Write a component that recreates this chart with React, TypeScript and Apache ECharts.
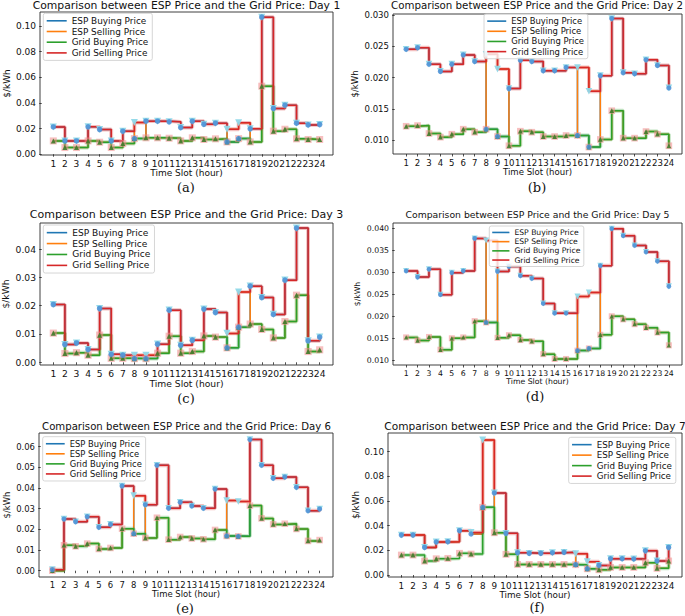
import React, { useEffect, useRef } from "react";
import * as echarts from "echarts";

// ---------- data ----------
const slots = [1, 2, 3, 4, 5, 6, 7, 8, 9, 10, 11, 12, 13, 14, 15, 16, 17, 18, 19, 20, 21, 22, 23, 24];
const seriesNames = ["ESP Buying Price", "ESP Selling Price", "Grid Buying Price", "Grid Selling Price"];
const dayTitles = [
  "Comparison between ESP Price and the Grid Price: Day 1",
  "Comparison between ESP Price and the Grid Price: Day 2",
  "Comparison between ESP Price and the Grid Price: Day 3",
  "Comparison between ESP Price and the Grid Price: Day 5",
  "Comparison between ESP Price and the Grid Price: Day 6",
  "Comparison between ESP Price and the Grid Price: Day 7",
];
const captions = ["(a)", "(b)", "(c)", "(d)", "(e)", "(f)"];
const xAxisName = "Time Slot (hour)";
const yAxisName = "$/kWh";

// Day 1
const day1GridSell = [0.0213, 0.0104, 0.0104, 0.0214, 0.0193, 0.0104, 0.0180, 0.0247, 0.0258, 0.0258, 0.0253, 0.0208, 0.0258, 0.0234, 0.0242, 0.0195, 0.0245, 0.0198, 0.1070, 0.0357, 0.0383, 0.0242, 0.0229, 0.0232];
const day1GridBuy = [0.0104, 0.0052, 0.0052, 0.0104, 0.0094, 0.0052, 0.0083, 0.0122, 0.0128, 0.0128, 0.0125, 0.0104, 0.0128, 0.0115, 0.0120, 0.0096, 0.0122, 0.0096, 0.0531, 0.0180, 0.0195, 0.0120, 0.0115, 0.0115];
const day1EspBuy = [0.0213, 0.0104, 0.0104, 0.0214, 0.0193, 0.0104, 0.0180, 0.0122, 0.0258, 0.0258, 0.0253, 0.0208, 0.0258, 0.0234, 0.0242, 0.0096, 0.0122, 0.0198, 0.1070, 0.0357, 0.0383, 0.0242, 0.0229, 0.0232];
const day1EspSell = [0.0104, 0.0052, 0.0052, 0.0104, 0.0094, 0.0052, 0.0083, 0.0247, 0.0128, 0.0128, 0.0125, 0.0104, 0.0128, 0.0115, 0.0120, 0.0195, 0.0245, 0.0096, 0.0531, 0.0180, 0.0195, 0.0120, 0.0115, 0.0115];
const day1Ticks = [0, 0.02, 0.04, 0.06, 0.08, 0.1];

// Day 2
const day2GridSell = [0.02455, 0.02481, 0.02217, 0.02101, 0.02217, 0.02365, 0.02259, 0.02376, 0.02138, 0.01825, 0.0228, 0.02259, 0.02111, 0.02111, 0.02164, 0.02164, 0.01783, 0.02032, 0.02947, 0.0208, 0.02063, 0.02286, 0.02196, 0.01836];
const day2GridBuy = [0.01222, 0.01233, 0.01106, 0.01048, 0.01095, 0.01175, 0.01127, 0.01175, 0.01058, 0.0091, 0.01143, 0.01127, 0.01058, 0.01058, 0.01074, 0.01074, 0.00889, 0.01011, 0.01471, 0.01032, 0.01032, 0.01138, 0.01095, 0.0091];
const day2EspBuy = [0.02455, 0.02481, 0.02217, 0.02101, 0.02217, 0.02365, 0.02259, 0.01175, 0.01058, 0.01825, 0.0228, 0.02259, 0.02111, 0.02111, 0.02164, 0.01074, 0.00889, 0.02032, 0.02947, 0.0208, 0.02063, 0.02286, 0.02196, 0.01836];
const day2EspSell = [0.01222, 0.01233, 0.01106, 0.01048, 0.01095, 0.01175, 0.01127, 0.02376, 0.02138, 0.0091, 0.01143, 0.01127, 0.01058, 0.01058, 0.01074, 0.02164, 0.01783, 0.01011, 0.01471, 0.01032, 0.01032, 0.01138, 0.01095, 0.0091];
const day2Ticks = [0.01, 0.015, 0.02, 0.025, 0.03];

// Day 3
const day3GridSell = [0.0204, 0.0063, 0.0068, 0.0045, 0.019, 0.0028, 0.0025, 0.0025, 0.0025, 0.0064, 0.0184, 0.006, 0.0078, 0.0188, 0.0176, 0.0102, 0.0248, 0.0269, 0.0229, 0.0169, 0.029, 0.0474, 0.0076, 0.0089];
const day3GridBuy = [0.0103, 0.0031, 0.0034, 0.0025, 0.0096, 0.0014, 0.0014, 0.0013, 0.0013, 0.0032, 0.0092, 0.0032, 0.0038, 0.0093, 0.0089, 0.0051, 0.0124, 0.0135, 0.0116, 0.0086, 0.0144, 0.0237, 0.0038, 0.0044];
const day3EspBuy = [0.0204, 0.0063, 0.0068, 0.0045, 0.019, 0.0028, 0.0025, 0.0013, 0.0013, 0.0064, 0.0184, 0.006, 0.0078, 0.0188, 0.0176, 0.0051, 0.0124, 0.0269, 0.0229, 0.0169, 0.029, 0.0474, 0.0076, 0.0089];
const day3EspSell = [0.0103, 0.0031, 0.0034, 0.0025, 0.0096, 0.0014, 0.0014, 0.0025, 0.0025, 0.0032, 0.0092, 0.0032, 0.0038, 0.0093, 0.0089, 0.0102, 0.0248, 0.0135, 0.0116, 0.0086, 0.0144, 0.0237, 0.0038, 0.0044];
const day3Ticks = [0, 0.01, 0.02, 0.03, 0.04];

// Day 5
const day5GridSell = [0.0303, 0.0289, 0.0307, 0.0249, 0.0299, 0.0303, 0.0377, 0.0372, 0.0302, 0.0313, 0.0292, 0.0286, 0.0229, 0.0207, 0.0207, 0.0245, 0.0254, 0.0315, 0.0399, 0.0383, 0.0361, 0.0346, 0.0325, 0.0268];
const day5GridBuy = [0.0152, 0.0145, 0.0153, 0.0124, 0.015, 0.0152, 0.0189, 0.0186, 0.0151, 0.0157, 0.0146, 0.0143, 0.0114, 0.0103, 0.0103, 0.0122, 0.0127, 0.0158, 0.02, 0.0193, 0.0182, 0.0174, 0.0163, 0.0134];
const day5EspBuy = [0.0303, 0.0289, 0.0307, 0.0249, 0.0299, 0.0303, 0.0377, 0.0186, 0.0302, 0.0313, 0.0292, 0.0286, 0.0229, 0.0207, 0.0207, 0.0122, 0.0127, 0.0315, 0.0399, 0.0383, 0.0361, 0.0346, 0.0325, 0.0268];
const day5EspSell = [0.0152, 0.0145, 0.0153, 0.0124, 0.015, 0.0152, 0.0189, 0.0372, 0.0151, 0.0157, 0.0146, 0.0143, 0.0114, 0.0103, 0.0103, 0.0245, 0.0254, 0.0158, 0.02, 0.0193, 0.0182, 0.0174, 0.0163, 0.0134];
const day5Ticks = [0.01, 0.015, 0.02, 0.025, 0.03, 0.035, 0.04];

// Day 6
const day6GridSell = [0.0005, 0.025, 0.0237, 0.0261, 0.021, 0.0224, 0.041, 0.0363, 0.0319, 0.051, 0.0302, 0.0331, 0.0313, 0.0302, 0.0395, 0.0339, 0.0335, 0.0634, 0.051, 0.0447, 0.0453, 0.0403, 0.029, 0.0298];
const day6GridBuy = [0.0, 0.0123, 0.0118, 0.0131, 0.0105, 0.011, 0.0203, 0.0179, 0.0158, 0.0256, 0.015, 0.0163, 0.0156, 0.0152, 0.0197, 0.0168, 0.0166, 0.0315, 0.0253, 0.0224, 0.0227, 0.0202, 0.0144, 0.0148];
const day6EspBuy = [0.0005, 0.025, 0.0237, 0.0261, 0.021, 0.0224, 0.041, 0.0179, 0.0319, 0.051, 0.0302, 0.0331, 0.0313, 0.0302, 0.0395, 0.0168, 0.0166, 0.0634, 0.051, 0.0447, 0.0453, 0.0403, 0.029, 0.0298];
const day6EspSell = [0.0, 0.0123, 0.0118, 0.0131, 0.0105, 0.011, 0.0203, 0.0363, 0.0158, 0.0256, 0.015, 0.0163, 0.0156, 0.0152, 0.0197, 0.0339, 0.0335, 0.0315, 0.0253, 0.0224, 0.0227, 0.0202, 0.0144, 0.0148];
const day6Ticks = [0, 0.01, 0.02, 0.03, 0.04, 0.05, 0.06];

// Day 7
const day7GridSell = [0.0324, 0.0324, 0.0224, 0.0268, 0.027, 0.036, 0.0345, 0.1095, 0.0665, 0.0338, 0.0181, 0.0176, 0.0176, 0.0181, 0.0184, 0.0173, 0.0108, 0.0078, 0.0132, 0.0132, 0.013, 0.0197, 0.0114, 0.0224];
const day7GridBuy = [0.0162, 0.0162, 0.0113, 0.0132, 0.0135, 0.0176, 0.017, 0.0549, 0.0343, 0.0168, 0.0086, 0.0086, 0.0086, 0.0086, 0.0086, 0.0084, 0.0051, 0.0043, 0.0062, 0.0062, 0.0062, 0.01, 0.0054, 0.0114];
const day7EspBuy = [0.0324, 0.0324, 0.0224, 0.0268, 0.027, 0.036, 0.0333, 0.0549, 0.0665, 0.0338, 0.0181, 0.0176, 0.0176, 0.0181, 0.0184, 0.0084, 0.0051, 0.0078, 0.0132, 0.0132, 0.013, 0.0197, 0.0114, 0.0224];
const day7EspSell = [0.0324, 0.0324, 0.0224, 0.0268, 0.027, 0.036, 0.0333, 0.1095, 0.0343, 0.0168, 0.0086, 0.0086, 0.0086, 0.0086, 0.0086, 0.0173, 0.0108, 0.0043, 0.0062, 0.0062, 0.0062, 0.01, 0.0054, 0.0114];
const day7Ticks = [0, 0.02, 0.04, 0.06, 0.08, 0.1];

// ---------- layout / style ----------
const FONT = "DejaVu Sans";
const lineColors = ["#1f77b4", "#ff7f0e", "#2ca02c", "#d62728"];

const panels = [
  { espBuy: day1EspBuy, espSell: day1EspSell, gridBuy: day1GridBuy, gridSell: day1GridSell, ticks: day1Ticks, dec: 2, s: 1.0,
    grid: { left: 40, top: 12, width: 293, height: 143 }, yMin: -0.0006, yMax: 0.111,
    legend: { left: 43.3, top: 13.3 }, yGap: 29, xGap: 12, title: [186.5, 5], cap: [186, 187] },
  { espBuy: day2EspBuy, espSell: day2EspSell, gridBuy: day2GridBuy, gridSell: day2GridSell, ticks: day2Ticks, dec: 3, s: 0.95,
    grid: { left: 393, top: 14, width: 289, height: 140 }, yMin: 0.00778, yMax: 0.0302,
    legend: { left: 484, top: 14 }, yGap: 34, xGap: 12.5, title: [537, 5], cap: [537, 187.5] },
  { espBuy: day3EspBuy, espSell: day3EspSell, gridBuy: day3GridBuy, gridSell: day3GridSell, ticks: day3Ticks, dec: 2, s: 1.02,
    grid: { left: 40, top: 223, width: 293, height: 142 }, yMin: -0.00096, yMax: 0.0492,
    legend: { left: 43.3, top: 225 }, yGap: 30, xGap: 12.5, title: [186.5, 214.5], cap: [186, 398.5] },
  { espBuy: day5EspBuy, espSell: day5EspSell, gridBuy: day5GridBuy, gridSell: day5GridSell, ticks: day5Ticks, dec: 3, s: 0.86,
    grid: { left: 393, top: 223, width: 289, height: 142 }, yMin: 0.00893, yMax: 0.0412,
    legend: { left: 489.3, top: 226 }, yGap: 32, xGap: 12.5, title: [537.5, 214.5], cap: [535, 396.5] },
  { espBuy: day6EspBuy, espSell: day6EspSell, gridBuy: day6GridBuy, gridSell: day6GridSell, ticks: day6Ticks, dec: 2, s: 0.94,
    grid: { left: 39, top: 433, width: 294, height: 144 }, yMin: -0.00305, yMax: 0.0666,
    legend: { left: 42.7, top: 436.7 }, yGap: 28, xGap: 13, title: [186.5, 426.2], cap: [185, 608] },
  { espBuy: day7EspBuy, espSell: day7EspSell, gridBuy: day7GridBuy, gridSell: day7GridSell, ticks: day7Ticks, dec: 2, s: 0.98,
    grid: { left: 388, top: 433, width: 294, height: 144 }, yMin: -0.0016, yMax: 0.1152,
    legend: { left: 568.7, top: 437.3 }, yGap: 28, xGap: 13, title: [535, 426.2], cap: [537, 607] },
];

const pts = (arr: number[]) => slots.map((x, k) => [x, arr[k]]);

function buildOption() {
  const series: any[] = [];
  panels.forEach((p, i) => {
    const ax = { xAxisIndex: i, yAxisIndex: i };
    const line = (name: string, color: string, arr: number[], width: number, opacity = 1) => ({
      type: "line", name, ...ax, data: pts(arr), step: "end", showSymbol: false, symbol: "none",
      color, lineStyle: { color, width, opacity }, z: 2, silent: true, emphasis: { disabled: true },
    });
    series.push(line(seriesNames[0], lineColors[0], p.espBuy, 1.5));
    series.push(line(seriesNames[1], lineColors[1], p.espSell, 1.5));
    series.push(line("gb-halo", lineColors[2], p.gridBuy, 3.8, 0.3));
    series.push(line(seriesNames[2], lineColors[2], p.gridBuy, 1.5));
    series.push(line("gs-halo", lineColors[3], p.gridSell, 3.8, 0.3));
    series.push(line(seriesNames[3], lineColors[3], p.gridSell, 1.5));
    const scatter = (name: string, arr: number[], symbol: string, size: number, color: string, opacity: number, rotate = 0) => ({
      type: "scatter", name, ...ax, data: pts(arr), symbol, symbolSize: size, symbolRotate: rotate,
      itemStyle: { color, opacity }, z: 3, silent: true, emphasis: { disabled: true },
    });
    series.push(scatter("m-gs", p.gridSell, "triangle", 7 * p.s, "#8fd8e8", 0.95, 180));
    series.push(scatter("m-gb-sq", p.gridBuy, "rect", 7 * p.s, "#f08a8a", 0.55));
    series.push(scatter("m-gb-tri", p.gridBuy, "triangle", 5 * p.s, "#3f7a2a", 0.9));
    series.push(scatter("m-eb", p.espBuy, "circle", 5.5 * p.s, "#4a8fd6", 0.85));
  });

  const ts = (s: number) => ({ fontFamily: FONT, fontSize: 9 * s, color: "#111" });

  return {
    animation: false,
    backgroundColor: "#ffffff",
    tooltip: { show: false },
    grid: panels.map((p) => ({ ...p.grid, show: true, borderColor: "#2a2a2a", borderWidth: 0.9, backgroundColor: "transparent" })),
    xAxis: panels.map((p, i) => ({
      type: "value", gridIndex: i, min: -0.15, max: 25.15,
      name: xAxisName, nameLocation: "middle", nameGap: p.xGap,
      nameTextStyle: ts(p.s),
      axisLine: { show: false }, splitLine: { show: false },
      axisTick: { show: true, length: 2.5, customValues: slots, lineStyle: { color: "#222", width: 0.8 } },
      axisLabel: { customValues: slots, margin: 4, ...ts(p.s), formatter: (v: number) => String(v) },
    })),
    yAxis: panels.map((p, i) => ({
      type: "value", gridIndex: i, min: p.yMin, max: p.yMax,
      name: yAxisName, nameLocation: "middle", nameGap: p.yGap,
      nameTextStyle: ts(p.s),
      axisLine: { show: false }, splitLine: { show: false },
      axisTick: { show: true, length: 2.5, customValues: p.ticks, lineStyle: { color: "#222", width: 0.8 } },
      axisLabel: { customValues: p.ticks, margin: 4, ...ts(p.s), formatter: (v: number) => v.toFixed(p.dec) },
    })),
    legend: panels.map((p) => ({
      orient: "vertical", left: p.legend.left, top: p.legend.top, align: "left",
      data: seriesNames.map((n, k) => ({ name: n, icon: "rect", itemStyle: { color: lineColors[k] } })),
      itemWidth: 20 * p.s, itemHeight: 1.6, itemGap: 0.7 * p.s,
      textStyle: { fontFamily: FONT, fontSize: 8.9 * p.s, lineHeight: 10 * p.s, color: "#111" },
      padding: [2.5 * p.s, 4 * p.s, 2.5 * p.s, 3.4 * p.s],
      borderColor: "#cccccc", borderWidth: 0.8, borderRadius: 2,
      backgroundColor: "rgba(255,255,255,0.8)",
      selectedMode: false,
    })),
    graphic: [
      ...panels.map((p, i) => ({
        type: "text", x: p.title[0], y: p.title[1], silent: true,
        style: { text: dayTitles[i], fontFamily: FONT, fontSize: 10.8 * p.s, fill: "#111", align: "center", verticalAlign: "middle" },
      })),
      ...panels.map((p, i) => ({
        type: "text", x: p.cap[0], y: p.cap[1], silent: true,
        style: { text: captions[i], fontFamily: "DejaVu Serif", fontSize: 13, fill: "#111", align: "center", verticalAlign: "middle" },
      })),
    ],
    series,
  };
}

export default function App() {
  const ref = useRef<HTMLDivElement>(null);
  useEffect(() => {
    if (!ref.current) return;
    const chart = echarts.init(ref.current, null, { renderer: "svg" });
    chart.setOption(buildOption() as any);
    return () => chart.dispose();
  }, []);
  return (
    <div
      ref={ref}
      style={{ position: "absolute", left: 0, top: 0, width: 685, height: 616, background: "#fff" }}
    />
  );
}
